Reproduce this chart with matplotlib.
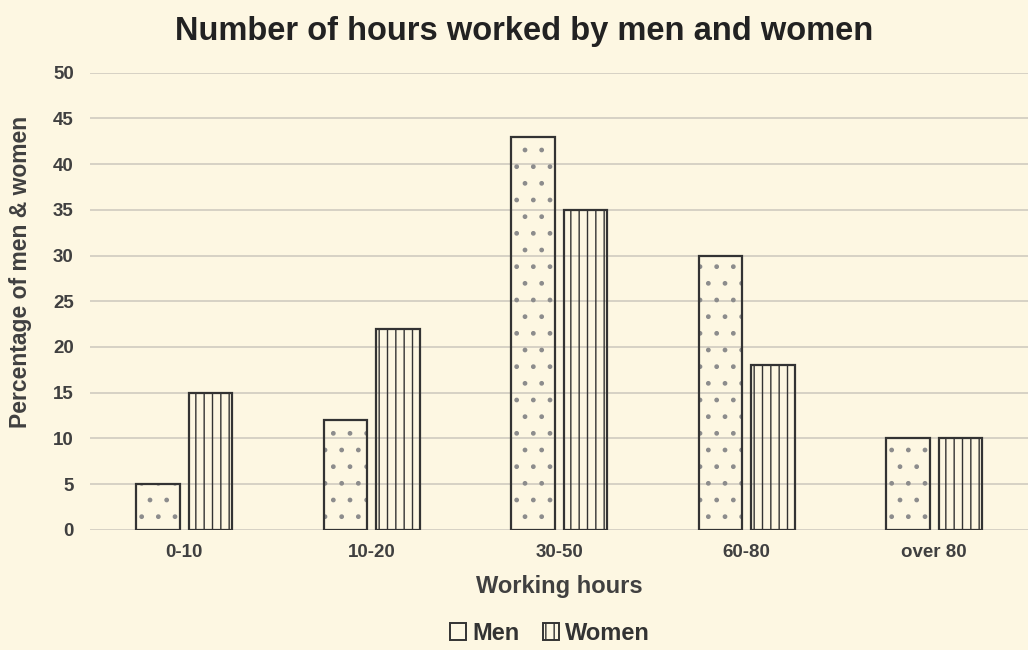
import matplotlib.pyplot as plt
from matplotlib.patches import Patch
import numpy as np

plt.rcParams['font.family'] = ['Liberation Sans', 'DejaVu Sans']
plt.rcParams['hatch.linewidth'] = 1.0

categories = ['0-10', '10-20', '30-50', '60-80', 'over 80']
men = [5, 12, 43, 30, 10]
women = [15, 22, 35, 18, 10]
yticks = list(range(0, 55, 5))


def create_plot():
    fig = plt.figure(figsize=(10.28, 6.5), dpi=100, facecolor='#fdf7e2')
    ax = fig.add_axes([0.088, 0.185, 0.912, 0.703])
    ax.set_facecolor('none')

    x = np.arange(len(categories))
    w = 0.23
    off = 0.14
    # dotted fill in a lighter gray, then the dark outline on top
    ax.bar(x - off, men, width=w, facecolor='none', edgecolor='#8c8c8c',
           linewidth=0, hatch='.', zorder=3)
    ax.bar(x - off, men, width=w, facecolor='none', edgecolor='#333333',
           linewidth=1.6, zorder=4)
    ax.bar(x + off, women, width=w, facecolor='none', edgecolor='#333333',
           linewidth=1.6, hatch='||', zorder=3)

    ax.set_xlim(-0.5, len(categories) - 0.5)
    ax.set_ylim(0, 50)
    ax.set_yticks(yticks)
    ax.set_xticks(x)
    ax.set_xticklabels(categories)
    ax.grid(axis='y', color='#d0cbc0', linewidth=1.2, zorder=0)
    for s in ax.spines.values():
        s.set_visible(False)
    ax.tick_params(length=0, labelsize=13.5, labelcolor='#404040', pad=12)
    ax.tick_params(axis='x', pad=10)
    for lab in ax.get_xticklabels() + ax.get_yticklabels():
        lab.set_fontweight('bold')

    ax.set_ylabel('Percentage of men & women', fontsize=16.5, fontweight='bold',
                  color='#404040')
    ax.yaxis.set_label_coords(-0.062, 0.565)
    ax.set_xlabel('Working hours', fontsize=17, fontweight='bold',
                  color='#404040', labelpad=10)
    fig.suptitle('Number of hours worked by men and women', fontsize=23.5,
                 fontweight='bold', color='#222222', x=0.51, y=0.975)

    handles = [Patch(facecolor='none', edgecolor='#333333', linewidth=1.4,
                     label='Men'),
               Patch(facecolor='none', edgecolor='#333333', linewidth=1.4,
                     hatch='||', label='Women')]
    leg = ax.legend(handles=handles, loc='upper center',
                    bbox_to_anchor=(0.49, -0.155), ncol=2,
                    frameon=False, handlelength=0.7, handleheight=0.7,
                    handletextpad=0.25, columnspacing=1.0,
                    prop={'size': 17, 'weight': 'bold'})
    for t in leg.get_texts():
        t.set_color('#333333')

    fig.savefig('out.png', dpi=100, facecolor=fig.get_facecolor())


def main():
    create_plot()


if __name__ == '__main__':
    main()
